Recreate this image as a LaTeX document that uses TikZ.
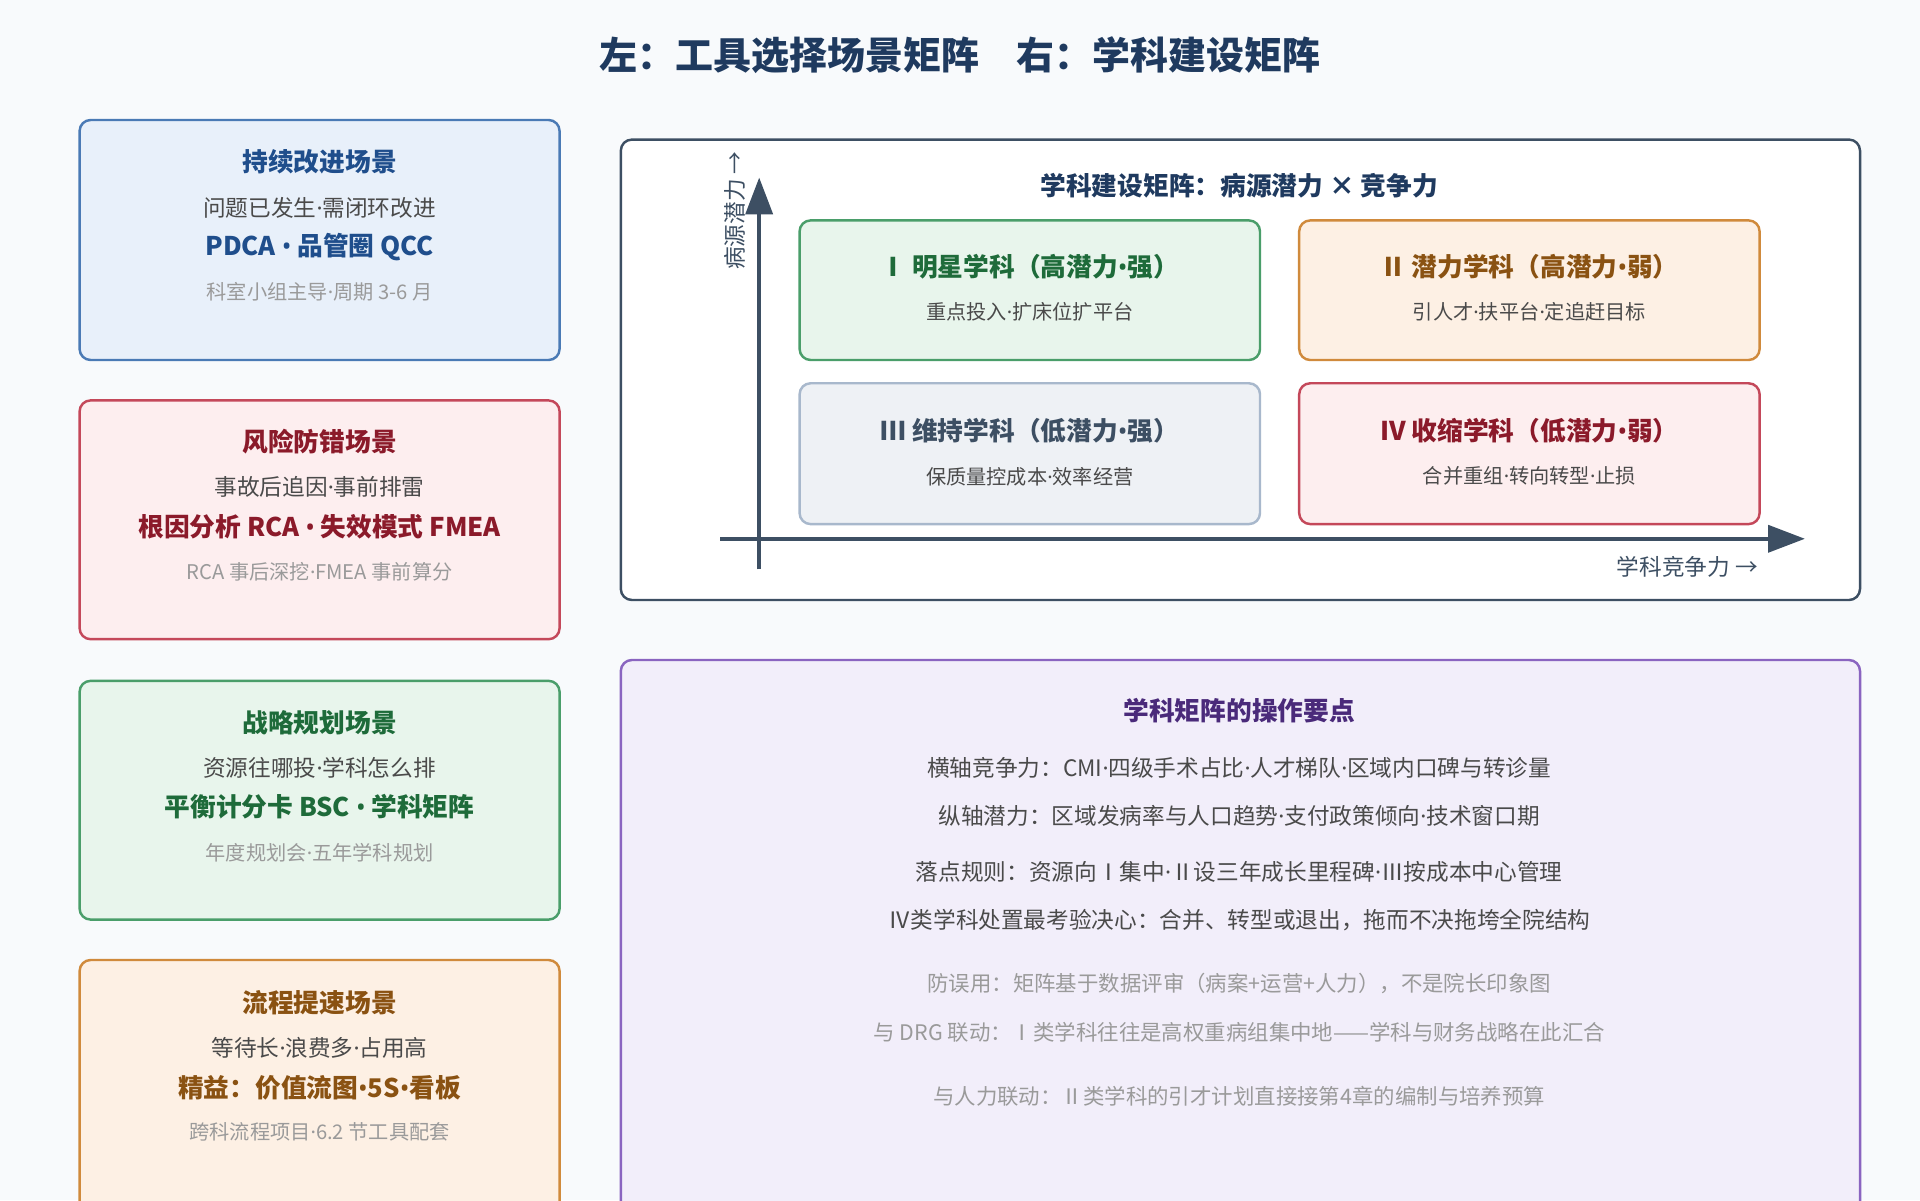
\documentclass[tikz,border=0pt]{standalone}
\usepackage{fontspec}
\setmainfont{Noto Sans CJK SC}
\newfontfamily\latinf{Noto Sans}
\newcommand\md{{\latinf ·}}
\newcommand\bu{{\latinf •}}
\usetikzlibrary{arrows.meta}
\definecolor{bg}{HTML}{F8FAFC}
\definecolor{ttl}{HTML}{1F3A5F}
\definecolor{body}{HTML}{4A4A4A}
\definecolor{gry}{HTML}{9A9A9A}
\definecolor{bF}{HTML}{E8F0FA}\definecolor{bB}{HTML}{4A7AB5}\definecolor{bT}{HTML}{1F4E8C}
\definecolor{rF}{HTML}{FDEEEF}\definecolor{rB}{HTML}{C4485A}\definecolor{rT}{HTML}{8B1A2A}
\definecolor{gF}{HTML}{E8F5EC}\definecolor{gB}{HTML}{4A9E6A}\definecolor{gT}{HTML}{1E6B3A}
\definecolor{oF}{HTML}{FDF0E4}\definecolor{oB}{HTML}{D08A3C}\definecolor{oT}{HTML}{8A5212}
\definecolor{sF}{HTML}{EEF1F5}\definecolor{sB}{HTML}{A8B8CC}\definecolor{sT}{HTML}{3D4F63}
\definecolor{pF}{HTML}{F2EEFA}\definecolor{pB}{HTML}{8A64C0}\definecolor{pT}{HTML}{4A2A7A}
\definecolor{ax}{HTML}{3D4F63}
\tikzset{
 box/.style={draw=#1, line width=2pt, rounded corners=9pt},
 t/.style={font=\fontsize{21}{24}\selectfont\bfseries, anchor=center},
 b/.style={font=\fontsize{18.5}{22}\selectfont, text=body, anchor=center},
 g/.style={font=\fontsize{16.5}{20}\selectfont, text=gry, anchor=center},
}
\begin{document}
\begin{tikzpicture}[x=1pt,y=-1pt]
\useasboundingbox (0,0) rectangle (1568,980);
\clip (0,0) rectangle (1568,980);
\fill[bg] (0,0) rectangle (1568,980);
\node[font=\fontsize{31}{34}\selectfont\bfseries, text=ttl] (title) at (784,45) {左：工具选择场景矩阵\quad 右：学科建设矩阵};
% left boxes
\draw[box=bB, fill=bF] (65,98) rectangle (457,294);
\node[t,text=bT] (a1) at (261,132) {持续改进场景};
\node[b] (a2) at (261,170) {问题已发生\md 需闭环改进};
\node[t,text=bT] (a3) at (261,202) {PDCA \bu{} 品管圈 QCC};
\node[g] (a4) at (261,238) {科室小组主导\md 周期 3-6 月};
\draw[box=rB, fill=rF] (65,327) rectangle (457,522);
\node[t,text=rT] (b1) at (261,361) {风险防错场景};
\node[b] (b2) at (261,398) {事故后追因\md 事前排雷};
\node[t,text=rT] (b3) at (261,430) {根因分析 RCA \bu{} 失效模式 FMEA};
\node[g] (b4) at (261,467) {RCA 事后深挖\md FMEA 事前算分};
\draw[box=gB, fill=gF] (65,556) rectangle (457,751);
\node[t,text=gT] (c1) at (261,590) {战略规划场景};
\node[b] (c2) at (261,627) {资源往哪投\md 学科怎么排};
\node[t,text=gT] (c3) at (261,659) {平衡计分卡 BSC \bu{} 学科矩阵};
\node[g] (c4) at (261,696) {年度规划会\md 五年学科规划};
\draw[box=oB, fill=oF] (65,784) rectangle (457,1000);
\node[t,text=oT] (d1) at (261,819) {流程提速场景};
\node[b] (d2) at (261,856) {等待长\md 浪费多\md 占用高};
\node[t,text=oT] (d3) at (261,888) {精益：价值流图\bu 5S\bu 看板};
\node[g] (d4) at (261,924) {跨科流程项目\md 6.2 节工具配套};
% matrix
\draw[box=ax, fill=white] (507,114) rectangle (1519,490);
\coordinate (yb) at (620,465); \coordinate (yt) at (620,145);
\coordinate (xl) at (588,440); \coordinate (xr) at (1474,440);
\draw[ax, line width=3pt, -{Triangle[length=30pt,width=22pt]}] (yb) -- (yt);
\draw[ax, line width=3pt, -{Triangle[length=30pt,width=22pt]}] (xl) -- (xr);
\node[b, rotate=90, text=ax] (yl) at (600,172) {病源潜力 →};
\node[b, text=ax] (xlab) at (1378,463) {学科竞争力 →};
\node[t, text=ttl] (mt) at (1012,152) {学科建设矩阵：病源潜力 × 竞争力};
\draw[box=gB, fill=gF] (653,180) rectangle (1029,294);
\node[t,text=gT] (q1) at (841,218) {Ⅰ 明星学科（高潜力\bu 强）};
\node[g,text=body] (q1s) at (841,255) {重点投入\md 扩床位扩平台};
\draw[box=oB, fill=oF] (1061,180) rectangle (1437,294);
\node[t,text=oT] (q2) at (1249,218) {Ⅱ 潜力学科（高潜力\bu 弱）};
\node[g,text=body] (q2s) at (1249,255) {引人才\md 扶平台\md 定追赶目标};
\draw[box=sB, fill=sF] (653,313) rectangle (1029,428);
\node[t,text=sT] (q3) at (841,352) {Ⅲ 维持学科（低潜力\bu 强）};
\node[g,text=body] (q3s) at (841,389) {保质量控成本\md 效率经营};
\draw[box=rB, fill=rF] (1061,313) rectangle (1437,428);
\node[t,text=rT] (q4) at (1249,352) {Ⅳ 收缩学科（低潜力\bu 弱）};
\node[g,text=body] (q4s) at (1249,389) {合并重组\md 转向转型\md 止损};
% notes
\draw[box=pB, fill=pF] (507,539) rectangle (1519,1000);
\node[t,text=pT] (n0) at (1012,580) {学科矩阵的操作要点};
\node[b] (n1) at (1012,627) {横轴竞争力：CMI\md 四级手术占比\md 人才梯队\md 区域内口碑与转诊量};
\node[b] (n2) at (1012,666) {纵轴潜力：区域发病率与人口趋势\md 支付政策倾向\md 技术窗口期};
\node[b] (n3) at (1012,712) {落点规则：资源向Ⅰ集中\md Ⅱ设三年成长里程碑\md Ⅲ按成本中心管理};
\node[b] (n4) at (1012,751) {Ⅳ类学科处置最考验决心：合并、转型或退出，拖而不决拖垮全院结构};
\node[g,font=\fontsize{17.5}{20}\selectfont] (n5) at (1012,803) {防误用：矩阵基于数据评审（病案+运营+人力），不是院长印象图};
\node[g,font=\fontsize{17.5}{20}\selectfont] (n6) at (1012,843) {与 DRG 联动：Ⅰ类学科往往是高权重病组集中地——学科与财务战略在此汇合};
\node[g,font=\fontsize{17.5}{20}\selectfont] (n7) at (1012,895) {与人力联动：Ⅱ类学科的引才计划直接接第4章的编制与培养预算};
\end{tikzpicture}
\end{document}
